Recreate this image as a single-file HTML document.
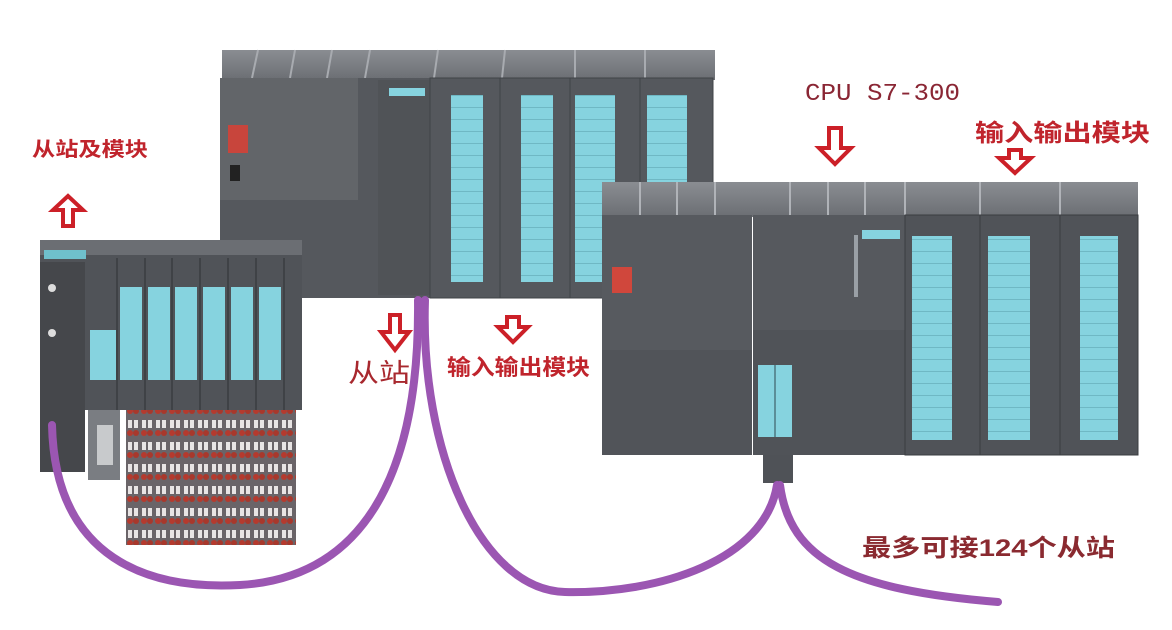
<!DOCTYPE html>
<html><head><meta charset="utf-8"><style>
html,body{margin:0;padding:0;background:#fff;width:1172px;height:630px;overflow:hidden}
svg{display:block}
.t{font-family:"Liberation Sans","Noto Sans CJK SC",sans-serif;fill:#c0242c;font-weight:bold}
</style></head><body>
<svg width="1172" height="630" viewBox="0 0 1172 630" xmlns="http://www.w3.org/2000/svg">
<defs>
<linearGradient id="top" x1="0" y1="0" x2="0" y2="1"><stop offset="0" stop-color="#8a8d92"/><stop offset="1" stop-color="#6b6e73"/></linearGradient>
<pattern id="cy" width="10" height="12" patternUnits="userSpaceOnUse"><rect width="10" height="12" fill="#86d3df"/><rect y="11" width="10" height="1" fill="#6fb8c4"/></pattern>
<pattern id="term" width="14" height="22" patternUnits="userSpaceOnUse"><rect width="14" height="22" fill="#6a6468"/><rect x="2" y="2" width="4" height="8" fill="#e8e4e4"/><rect x="8" y="2" width="4" height="8" fill="#e8e4e4"/><circle cx="4" cy="15" r="3" fill="#b53a2e"/><circle cx="10" cy="15" r="3" fill="#a8382c"/></pattern>
</defs>

<rect x="222" y="50" width="493" height="30" fill="url(#top)"/>
<g stroke="#a8abb0" stroke-width="2">
<line x1="258" y1="50" x2="252" y2="78"/><line x1="295" y1="50" x2="290" y2="78"/><line x1="332" y1="50" x2="327" y2="78"/><line x1="370" y1="50" x2="365" y2="78"/><line x1="438" y1="50" x2="434" y2="78"/><line x1="505" y1="50" x2="502" y2="78"/><line x1="575" y1="50" x2="575" y2="78"/><line x1="645" y1="50" x2="645" y2="78"/>
</g>
<rect x="220" y="78" width="140" height="122" fill="#626569"/>
<rect x="220" y="200" width="140" height="98" fill="#55585d"/>
<rect x="228" y="125" width="20" height="28" fill="#c8453c"/>
<rect x="230" y="165" width="10" height="16" fill="#222"/>
<rect x="358" y="78" width="72" height="220" fill="#55585d"/>
<rect x="378" y="80" width="52" height="215" fill="#505357"/>
<rect x="389" y="88" width="36" height="8" fill="#86d3df"/>
<g fill="#55585d" stroke="#404347" stroke-width="1">
<rect x="430" y="78" width="70" height="220"/><rect x="500" y="78" width="70" height="220"/><rect x="570" y="78" width="70" height="220"/><rect x="640" y="78" width="73" height="220"/>
</g>
<rect x="451" y="95" width="32" height="187" fill="url(#cy)"/>
<rect x="521" y="95" width="32" height="187" fill="url(#cy)"/>
<rect x="575" y="95" width="40" height="187" fill="url(#cy)"/>
<rect x="647" y="95" width="40" height="90" fill="url(#cy)"/>

<rect x="602" y="182" width="536" height="35" fill="url(#top)"/>
<g stroke="#b0b3b8" stroke-width="2">
<line x1="640" y1="182" x2="640" y2="215"/><line x1="677" y1="182" x2="677" y2="215"/><line x1="715" y1="182" x2="715" y2="215"/><line x1="790" y1="182" x2="790" y2="215"/><line x1="828" y1="182" x2="828" y2="215"/><line x1="865" y1="182" x2="865" y2="215"/><line x1="905" y1="182" x2="905" y2="215"/><line x1="980" y1="182" x2="980" y2="215"/><line x1="1060" y1="182" x2="1060" y2="215"/>
</g>
<rect x="602" y="215" width="150" height="135" fill="#575a5f"/>
<rect x="602" y="350" width="150" height="105" fill="#515459"/>
<rect x="612" y="267" width="20" height="26" fill="#d0473c"/>
<rect x="753" y="215" width="152" height="115" fill="#56595e"/>
<rect x="753" y="330" width="152" height="125" fill="#505358"/>
<rect x="862" y="230" width="38" height="9" fill="#86d3df"/>
<rect x="854" y="235" width="4" height="62" fill="#9aa0a6"/>
<rect x="758" y="365" width="34" height="72" fill="#86d3df"/>
<line x1="775" y1="365" x2="775" y2="437" stroke="#5b8e98" stroke-width="2"/>
<rect x="763" y="455" width="30" height="28" fill="#4f5257"/>
<g fill="#505358" stroke="#3a3d41" stroke-width="1">
<rect x="905" y="215" width="75" height="240"/><rect x="980" y="215" width="80" height="240"/><rect x="1060" y="215" width="78" height="240"/>
</g>
<rect x="912" y="236" width="40" height="204" fill="url(#cy)"/>
<rect x="988" y="236" width="42" height="204" fill="url(#cy)"/>
<rect x="1080" y="236" width="38" height="204" fill="url(#cy)"/>

<rect x="40" y="240" width="262" height="22" fill="#6b6e73"/>
<rect x="40" y="255" width="262" height="155" fill="#505358"/>
<rect x="44" y="250" width="42" height="9" fill="#6fc0cc"/>
<rect x="40" y="262" width="45" height="210" fill="#45474b"/>
<circle cx="52" cy="288" r="4" fill="#ddd"/><circle cx="52" cy="333" r="4" fill="#ddd"/>
<g stroke="#3f4246" stroke-width="2"><line x1="117" y1="258" x2="117" y2="410"/><line x1="145" y1="258" x2="145" y2="410"/><line x1="172" y1="258" x2="172" y2="410"/><line x1="200" y1="258" x2="200" y2="410"/><line x1="228" y1="258" x2="228" y2="410"/><line x1="256" y1="258" x2="256" y2="410"/><line x1="284" y1="258" x2="284" y2="410"/></g>
<rect x="90" y="330" width="26" height="50" fill="#86d3df"/>
<rect x="120" y="287" width="22" height="93" fill="#86d3df"/>
<rect x="148" y="287" width="22" height="93" fill="#86d3df"/>
<rect x="175" y="287" width="22" height="93" fill="#86d3df"/>
<rect x="203" y="287" width="22" height="93" fill="#86d3df"/>
<rect x="231" y="287" width="22" height="93" fill="#86d3df"/>
<rect x="259" y="287" width="22" height="93" fill="#86d3df"/>
<rect x="88" y="410" width="32" height="70" fill="#7a7d82"/>
<rect x="97" y="425" width="16" height="40" fill="#c8cacc"/>
<rect x="126" y="410" width="170" height="135" fill="url(#term)"/>

<g fill="none" stroke="#9b56b2" stroke-width="8" stroke-linecap="round">
<path d="M52 425 C 55 560, 150 590, 240 585 C 360 578, 420 480, 418 300"/>
<path d="M425 300 C 420 450, 480 590, 565 592 C 660 594, 765 560, 777 485"/>
<path d="M780 485 C 790 560, 850 590, 998 602"/>
</g>

<g fill="#fff" stroke="#cc2028" stroke-width="4" stroke-linejoin="miter">
<polygon points="63,226 73,226 73,210 83,210 68,196 53,210 63,210"/>
<polygon points="390,315 400,315 400,332 409,332 395,350 381,332 390,332"/>
<polygon points="507,317 519,317 519,327 528,327 513,342 498,327 507,327"/>
<polygon points="829,128 841,128 841,148 851,148 835,164 819,148 829,148"/>
<polygon points="1009,150 1021,150 1021,158 1031,158 1015,173 999,158 1009,158"/>
</g>

<text class="t" x="32" y="156" font-size="20" textLength="116" lengthAdjust="spacingAndGlyphs">从站及模块</text>
<text x="805" y="100" font-family="Liberation Mono,monospace" font-size="24" fill="#8a2634" textLength="155" lengthAdjust="spacingAndGlyphs">CPU S7-300</text>
<text class="t" x="975" y="141" font-size="24" textLength="175" lengthAdjust="spacingAndGlyphs">输入输出模块</text>
<text class="t" x="348" y="382" font-size="26" style="fill:#a8282e;font-weight:normal" textLength="62" lengthAdjust="spacingAndGlyphs">从站</text>
<text class="t" x="447" y="375" font-size="22" textLength="143" lengthAdjust="spacingAndGlyphs">输入输出模块</text>
<text class="t" x="862" y="556" font-size="24" style="fill:#8a2a30" textLength="253" lengthAdjust="spacingAndGlyphs">最多可接124个从站</text>
</svg>
</body></html>
